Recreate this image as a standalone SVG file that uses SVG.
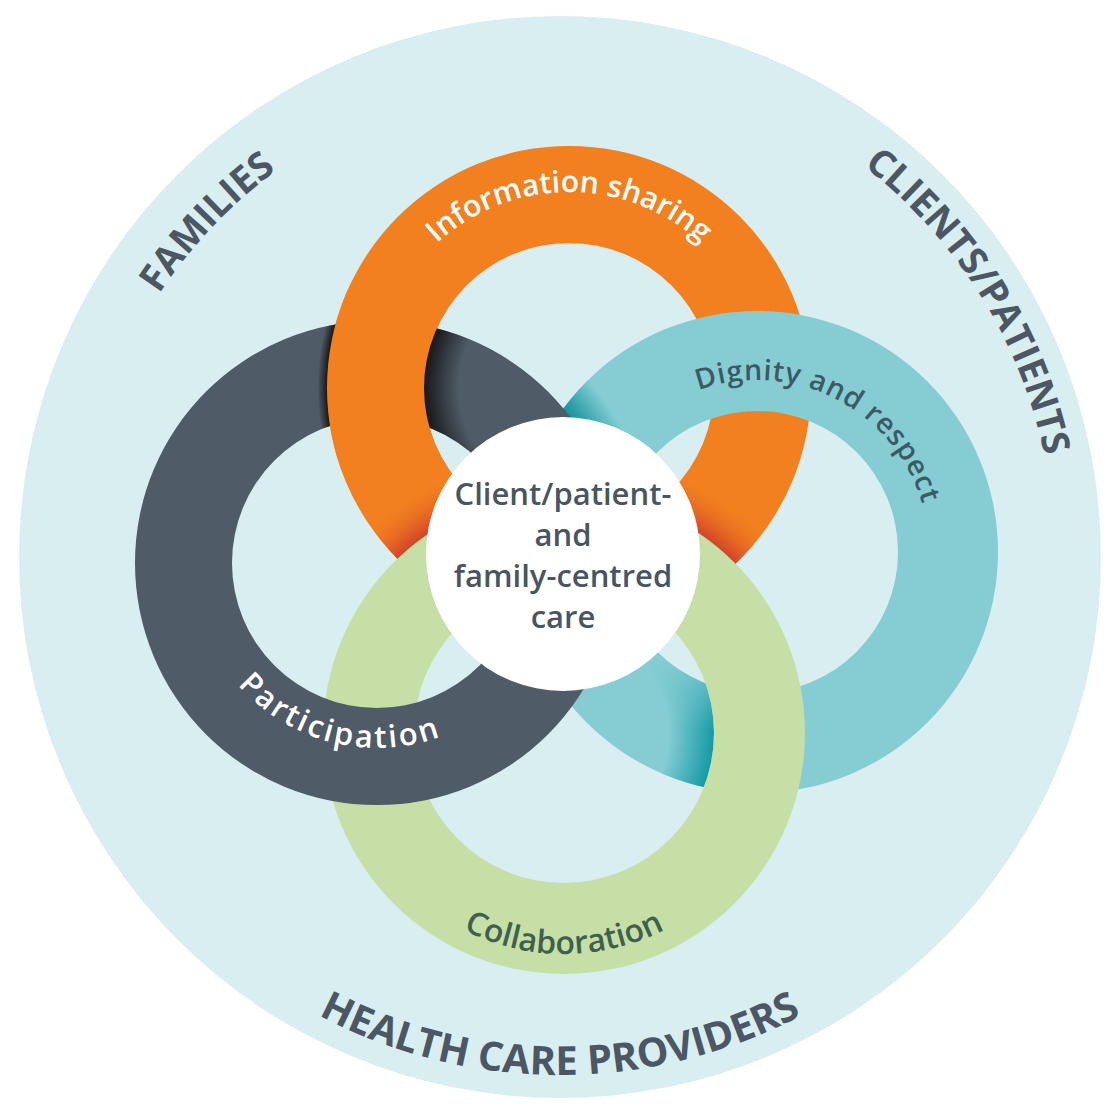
<svg xmlns="http://www.w3.org/2000/svg" width="1114" height="1109" viewBox="0 0 1114 1109">
<style>
.outer{font-family:"Open Sans","Noto Sans",sans-serif;font-weight:700;fill:#4b5864;}
.ring{font-family:"Open Sans","Noto Sans",sans-serif;font-weight:600;}
.ctr{font-family:"Open Sans","Noto Sans",sans-serif;font-weight:600;fill:#4a5560;font-size:31px;text-anchor:middle;}
</style>
<defs>
<path id="bandO" clip-rule="evenodd" fill-rule="evenodd" d="M 811 388 A 242 242 0 1 0 327 388 A 242 242 0 1 0 811 388 Z M 714 388 A 145 145 0 1 0 424 388 A 145 145 0 1 0 714 388 Z"/>
<path id="bandD" clip-rule="evenodd" fill-rule="evenodd" d="M 619 563 A 242 242 0 1 0 135 563 A 242 242 0 1 0 619 563 Z M 522 563 A 145 145 0 1 0 232 563 A 145 145 0 1 0 522 563 Z"/>
<path id="bandT" clip-rule="evenodd" fill-rule="evenodd" d="M 998 552 A 241 241 0 1 0 516 552 A 241 241 0 1 0 998 552 Z M 898 552 A 141 141 0 1 0 616 552 A 141 141 0 1 0 898 552 Z"/>
<path id="bandG" clip-rule="evenodd" fill-rule="evenodd" d="M 805 733 A 241 241 0 1 0 323 733 A 241 241 0 1 0 805 733 Z M 714 733 A 150 150 0 1 0 414 733 A 150 150 0 1 0 714 733 Z"/>
<clipPath id="cO"><use href="#bandO"/></clipPath>
<clipPath id="cD"><use href="#bandD"/></clipPath>
<clipPath id="cT"><use href="#bandT"/></clipPath>
<clipPath id="cTL"><rect x="280" y="290" width="200" height="180"/></clipPath>
<clipPath id="cTop"><rect x="500" y="300" width="200" height="180"/></clipPath>
<linearGradient id="fadeV" x1="0" y1="0" x2="0" y2="1">
<stop offset="0.1" stop-color="#000"/>
<stop offset="0.45" stop-color="#fff"/>
</linearGradient>
<mask id="mBot" maskUnits="userSpaceOnUse" x="0" y="0" width="1114" height="1109">
<rect x="600" y="640" width="160" height="200" fill="url(#fadeV)"/>
</mask>
<radialGradient id="shO" gradientUnits="userSpaceOnUse" cx="569" cy="388" r="262">
<stop offset="0" stop-color="#111" stop-opacity="0"/>
<stop offset="0.42" stop-color="#111" stop-opacity="0"/>
<stop offset="0.553" stop-color="#111" stop-opacity="0.9"/>
<stop offset="0.924" stop-color="#111" stop-opacity="0.9"/>
<stop offset="0.96" stop-color="#111" stop-opacity="0"/>
</radialGradient>
<radialGradient id="shRed" gradientUnits="userSpaceOnUse" cx="564" cy="733" r="280">
<stop offset="0.86" stop-color="#d0402a" stop-opacity="0.95"/>
<stop offset="1" stop-color="#e86a22" stop-opacity="0"/>
</radialGradient>
<radialGradient id="shT1" gradientUnits="userSpaceOnUse" cx="377" cy="563" r="280">
<stop offset="0.864" stop-color="#0e8f9c" stop-opacity="0.95"/>
<stop offset="1" stop-color="#0e8f9c" stop-opacity="0"/>
</radialGradient>
<radialGradient id="shT2" gradientUnits="userSpaceOnUse" cx="564" cy="733" r="150">
<stop offset="0.7" stop-color="#0e97a3" stop-opacity="0"/>
<stop offset="1" stop-color="#0e97a3" stop-opacity="0.95"/>
</radialGradient>
<path id="pInfo" d="M 373 388 A 196 196 0 0 1 765 388"/>
<path id="pDig" d="M 603.7 473.9 A 172 172 0 0 1 910.3 630.1"/>
<path id="pPart" d="M 197.5 518.2 A 185 185 0 0 0 556.5 607.8"/>
<path id="pColl" d="M 343 733 A 221 221 0 0 0 785 733"/>
<path id="pFam" d="M 224.8 910.2 A 487 487 0 0 1 895.2 203.8"/>
<path id="pCli" d="M 297.7 137.2 A 495 495 0 0 1 822.3 976.8"/>
<path id="pHcp" d="M 42 557 A 518 518 0 0 0 1078 557"/>
</defs>
<rect width="1114" height="1109" fill="#ffffff"/>
<circle id="outer-circle" cx="560" cy="557" r="541" fill="#d9eef1"/>
<g id="ring-orange">
<use href="#bandO" fill="#f2801f"/>
<circle cx="564" cy="733" r="280" fill="url(#shRed)" clip-path="url(#cO)"/>
</g>
<g id="ring-teal">
<use href="#bandT" fill="#85cdd3"/>
<g clip-path="url(#cT)">
<circle cx="377" cy="563" r="280" fill="url(#shT1)" clip-path="url(#cTop)"/>
<circle cx="564" cy="733" r="150" fill="url(#shT2)" mask="url(#mBot)"/>
</g>
</g>
<g id="ring-green">
<use href="#bandG" fill="#c5dfa6"/>
</g>
<g id="ring-dark">
<use href="#bandD" fill="#4f5b67"/>
<g clip-path="url(#cD)">
<circle cx="569" cy="388" r="262" fill="url(#shO)" clip-path="url(#cTL)"/>
</g>
</g>
<g id="ring-orange-over">
<use href="#bandO" fill="#f2801f" clip-path="url(#cTL)"/>
</g>
<g id="connectors"/>
<g id="ring-labels">
<text class="ring" font-size="30" fill="#ffffff"><textPath href="#pInfo" startOffset="50%" text-anchor="middle">Information sharing</textPath></text>
<text class="ring" font-size="28.5" fill="#3b5a66" letter-spacing="0.8"><textPath href="#pDig" startOffset="50%" text-anchor="middle">Dignity and respect</textPath></text>
<text class="ring" font-size="31" fill="#ffffff" letter-spacing="2.5"><textPath href="#pPart" startOffset="50%" text-anchor="middle">Participation</textPath></text>
<text class="ring" font-size="32" fill="#40604e"><textPath href="#pColl" startOffset="50%" text-anchor="middle">Collaboration</textPath></text>
</g>
<g id="center-node">
<circle cx="563" cy="554" r="137" fill="#ffffff"/>
<text class="ctr" x="563" y="505">Client/patient-</text>
<text class="ctr" x="563" y="546">and</text>
<text class="ctr" x="563" y="587">family-centred</text>
<text class="ctr" x="563" y="628">care</text>
</g>
<g id="outer-labels">
<text class="outer" font-size="38"><textPath href="#pFam" startOffset="50%" text-anchor="middle">FAMILIES</textPath></text>
<text class="outer" font-size="38"><textPath href="#pCli" startOffset="50%" text-anchor="middle">CLIENTS/PATIENTS</textPath></text>
<text class="outer" font-size="40"><textPath href="#pHcp" startOffset="50%" text-anchor="middle">HEALTH CARE PROVIDERS</textPath></text>
</g>
</svg>
